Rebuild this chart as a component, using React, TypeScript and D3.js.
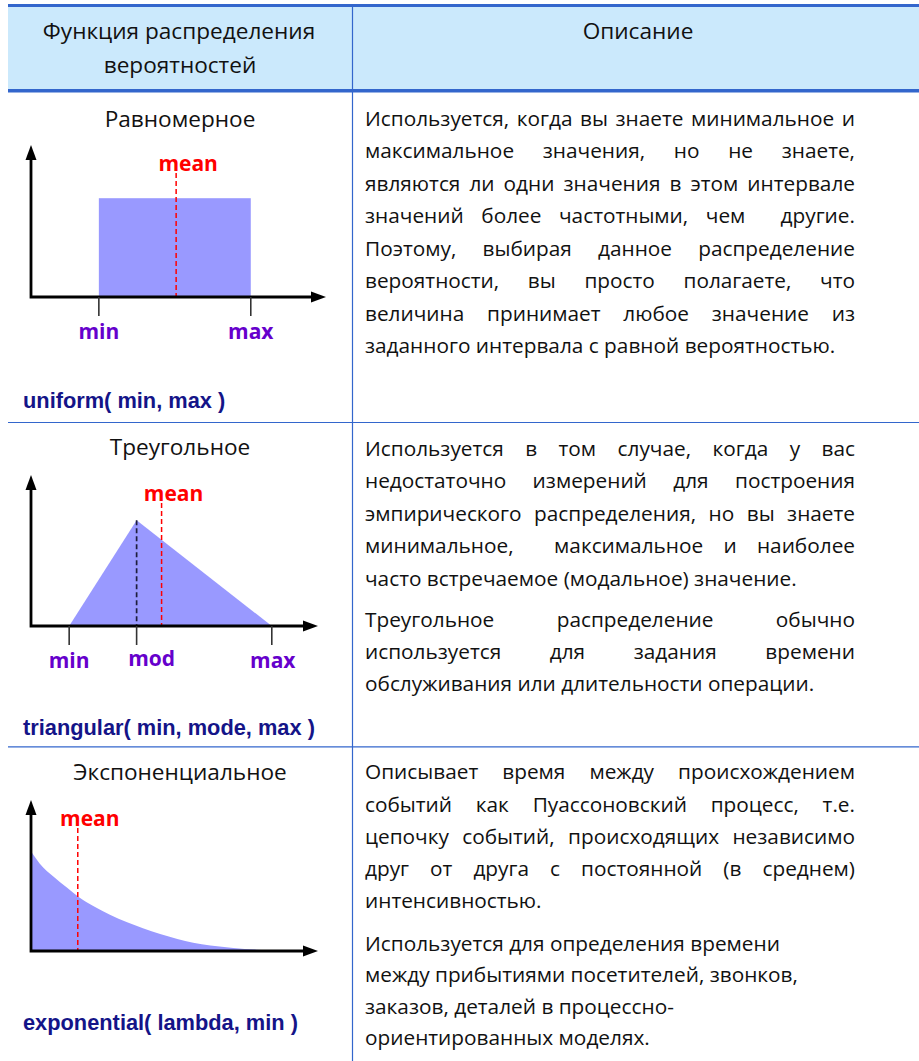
import React from "react";
import * as d3 from "d3";

// ---------- data ----------
const headerLeft = ["Функция распределения", "вероятностей"];
const headerRight = ["Описание"];
const distNames = ["Равномерное", "Треугольное", "Экспоненциальное"];
const distFormulas = ["uniform( min, max )", "triangular( min, mode, max )", "exponential( lambda, min )"];

const uniformLabels = ["min", "max"];
const uniformValues = [2.3, 7.45];
const uniformDensity = 0.65;
const uniformMean = 4.92;

const triangularLabels = ["min", "mod", "max"];
const triangularValues = [1.33, 3.68, 8.39];
const triangularPeak = 0.7;
const triangularMean = 4.55;

const expX = [0, 0.3, 0.8, 1.25, 1.65, 2.2, 2.75, 3.35, 3.9, 4.5, 5.1, 5.65, 6.25, 7.05, 7.85, 8.55];
const expY = [0.66, 0.58, 0.49, 0.42, 0.36, 0.295, 0.24, 0.19, 0.15, 0.112, 0.08, 0.055, 0.036, 0.02, 0.009, 0.002];
const expMean = 1.63;

const desc1 = [
  {
    justify: true,
    lines: [
      "Используется, когда вы знаете минимальное и",
      "максимальное значения, но не знаете,",
      "являются ли одни значения в этом интервале",
      "значений более частотными, чем  другие.",
      "Поэтому, выбирая данное распределение",
      "вероятности, вы просто полагаете, что",
      "величина принимает любое значение из",
      "заданного интервала с равной вероятностью.",
    ],
  },
];
const desc2 = [
  {
    justify: true,
    lines: [
      "Используется в том случае, когда у вас",
      "недостаточно измерений для построения",
      "эмпирического распределения, но вы знаете",
      "минимальное,  максимальное и наиболее",
      "часто встречаемое (модальное) значение.",
    ],
  },
  {
    justify: true,
    lines: [
      "Треугольное распределение обычно",
      "используется для задания времени",
      "обслуживания или длительности операции.",
    ],
  },
];
const desc3 = [
  {
    justify: true,
    lines: [
      "Описывает время между происхождением",
      "событий как Пуассоновский процесс, т.е.",
      "цепочку событий, происходящих независимо",
      "друг от друга с постоянной (в среднем)",
      "интенсивностью.",
    ],
  },
  {
    justify: false,
    lines: [
      "Используется для определения времени",
      "между прибытиями посетителей, звонков,",
      "заказов, деталей в процессно-",
      "ориентированных моделях.",
    ],
  },
];

// ---------- styles ----------
const W = 919;
const H = 1061;
const BLUE = "#3366cc";
const FILL = "#9999ff";
const PURPLE = "#6600cc";
const RED = "#ff0000";
const NAVY = "#141488";
const TXT = "#111111";
const FONT_FAMILY = "'Open Sans', sans-serif";
const FONT_SIZE = 20.8;
const TITLE_SIZE = 22.6;
const TEXT_X0 = 365;
const TEXT_X1 = 855;

let ctx: CanvasRenderingContext2D | null = null;
function measure(t: string, font: string) {
  if (!ctx) ctx = document.createElement("canvas").getContext("2d");
  ctx!.font = font;
  return ctx!.measureText(t).width;
}

function Para({ paras, starts, lh }: { paras: any[]; starts: number[]; lh: number[] }) {
  const font = `${FONT_SIZE}px "Open Sans"`;
  const out: any[] = [];
  paras.forEach((p, pi) => {
    p.lines.forEach((line: string, li: number) => {
      const y = starts[pi] + li * lh[pi];
      const isLast = li === p.lines.length - 1;
      const key = `${pi}-${li}`;
      if (!p.justify || isLast) {
        out.push(
          <text key={key} x={TEXT_X0} y={y}>
            {line}
          </text>
        );
        return;
      }
      const words = line.split(" ");
      const widths = words.map((w) => measure(w, font));
      const gap = (TEXT_X1 - TEXT_X0 - d3.sum(widths)) / (words.length - 1);
      let cx = TEXT_X0;
      out.push(
        <text key={key} y={y}>
          {words.map((w, i) => {
            const el = (
              <tspan key={i} x={cx}>
                {w}
              </tspan>
            );
            cx += widths[i] + gap;
            return el;
          })}
        </text>
      );
    });
  });
  return (
    <g fontFamily={FONT_FAMILY} fontSize={FONT_SIZE} fill={TXT}>
      {out}
    </g>
  );
}

function Axes({ x0, y0, yTop, xEnd }: { x0: number; y0: number; yTop: number; xEnd: number }) {
  const al = 15;
  const aw = 5.5;
  return (
    <g>
      <path d={`M${x0},${yTop + al - 1}L${x0},${y0}L${xEnd - al + 1},${y0}`} fill="none" stroke="#000" strokeWidth={2.8} strokeLinejoin="miter" />
      <polygon points={`${x0},${yTop} ${x0 - aw},${yTop + al} ${x0 + aw},${yTop + al}`} fill="#000" />
      <polygon points={`${xEnd},${y0} ${xEnd - al},${y0 - aw} ${xEnd - al},${y0 + aw}`} fill="#000" />
    </g>
  );
}

function MeanMark({ x, yTop, y0 }: { x: number; yTop: number; y0: number }) {
  return (
    <g>
      <line x1={x} x2={x} y1={yTop} y2={y0} stroke={RED} strokeWidth={1.5} strokeDasharray="5,3" />
      <text x={x + 12} y={yTop - 2.5} textAnchor="middle" fontFamily={FONT_FAMILY} fontWeight={700} fontSize={21} fill={RED}>
        mean
      </text>
    </g>
  );
}

function Ticks({ xs, labels, y0, dy }: { xs: number[]; labels: string[]; y0: number; dy: number[] }) {
  return (
    <g>
      {xs.map((x, i) => (
        <g key={i}>
          <line x1={x} x2={x} y1={y0} y2={y0 + 19} stroke="#333" strokeWidth={1.6} />
          <text x={x + dy[i]} y={y0 + 42 + (labels[i] === "mod" ? -2 : 0)} textAnchor="middle" fontFamily={FONT_FAMILY} fontWeight={700} fontSize={21} fill={PURPLE}>
            {labels[i]}
          </text>
        </g>
      ))}
    </g>
  );
}

function UniformChart() {
  const y0 = 297,
    yTop = 145;
  const x = d3.scaleLinear().domain([0, 10]).range([31, 326]);
  const y = d3.scaleLinear().domain([0, 1]).range([y0, yTop]);
  const [mn, mx] = uniformValues;
  return (
    <g>
      <rect x={x(mn)} y={y(uniformDensity)} width={x(mx) - x(mn)} height={y(0) - y(uniformDensity)} fill={FILL} />
      <MeanMark x={x(uniformMean)} yTop={yTop + 28} y0={y0} />
      <Axes x0={x(0)} y0={y0} yTop={yTop} xEnd={x(10)} />
      <Ticks xs={uniformValues.map((v) => x(v))} labels={uniformLabels} y0={y0} dy={[0, 0]} />
    </g>
  );
}

function TriangularChart() {
  const y0 = 626,
    yTop = 475;
  const x = d3.scaleLinear().domain([0, 10]).range([31, 318]);
  const y = d3.scaleLinear().domain([0, 1]).range([y0, yTop]);
  const [mn, md, mx] = triangularValues;
  const pts: [number, number][] = [
    [mn, 0],
    [md, triangularPeak],
    [mx, 0],
  ];
  const area = d3
    .area<[number, number]>()
    .x((d) => x(d[0]))
    .y0(y(0))
    .y1((d) => y(d[1]));
  return (
    <g>
      <path d={area(pts) || ""} fill={FILL} />
      <line x1={x(md)} x2={x(md)} y1={y(triangularPeak)} y2={y0} stroke="#1e1e3c" strokeWidth={1.7} strokeDasharray="5,3" />
      <MeanMark x={x(triangularMean)} yTop={yTop + 28} y0={y0} />
      <Axes x0={x(0)} y0={y0} yTop={yTop} xEnd={x(10)} />
      <Ticks xs={triangularValues.map((v) => x(v))} labels={triangularLabels} y0={y0} dy={[0, 15, 1]} />
    </g>
  );
}

function ExpChart() {
  const y0 = 951,
    yTop = 800;
  const x = d3.scaleLinear().domain([0, 10]).range([31, 318]);
  const y = d3.scaleLinear().domain([0, 1]).range([y0, yTop]);
  const pts = expX.map((v, i) => [v, expY[i]] as [number, number]);
  const area = d3
    .area<[number, number]>()
    .x((d) => x(d[0]))
    .y0(y(0))
    .y1((d) => y(d[1]))
    .curve(d3.curveMonotoneX);
  return (
    <g>
      <path d={area(pts) || ""} fill={FILL} />
      <MeanMark x={x(expMean)} yTop={yTop + 28} y0={y0} />
      <Axes x0={x(0)} y0={y0} yTop={yTop} xEnd={x(10)} />
    </g>
  );
}

export default function App() {
  const titleYs = [127, 455, 780];
  const formulaYs = [408, 735, 1030];
  return (
    <svg width={W} height={H} style={{ position: "absolute", left: 0, top: 0, background: "#fff" }}>
      <rect x={0} y={0} width={W} height={H} fill="#fff" />
      {/* header */}
      <rect x={8} y={5} width={W - 8} height={86} fill="#cbe9fc" />
      <line x1={8} x2={W} y1={5.5} y2={5.5} stroke={BLUE} strokeWidth={3} />
      <line x1={8} x2={W} y1={90.7} y2={90.7} stroke={BLUE} strokeWidth={3.5} />
      <line x1={352.5} x2={352.5} y1={5} y2={H} stroke={BLUE} strokeWidth={1.2} />
      <line x1={8} x2={W} y1={422.5} y2={422.5} stroke={BLUE} strokeWidth={1.2} />
      <line x1={8} x2={W} y1={746.8} y2={746.8} stroke={BLUE} strokeWidth={1.2} />
      <g fontFamily={FONT_FAMILY} fontSize={TITLE_SIZE} fill={TXT} textAnchor="middle">
        <text x={179} y={39}>
          {headerLeft[0]}
        </text>
        <text x={180} y={73}>
          {headerLeft[1]}
        </text>
        <text x={638} y={39}>
          {headerRight[0]}
        </text>
        {distNames.map((n, i) => (
          <text key={n} x={180} y={titleYs[i]}>
            {n}
          </text>
        ))}
      </g>
      <g fontFamily="'Liberation Sans', Arial, sans-serif" fontWeight={700} fontSize={21.8} fill={NAVY}>
        {distFormulas.map((f, i) => (
          <text key={f} x={23} y={formulaYs[i]}>
            {f}
          </text>
        ))}
      </g>
      <UniformChart />
      <TriangularChart />
      <ExpChart />
      <Para paras={desc1} starts={[126]} lh={[32.45]} />
      <Para paras={desc2} starts={[455.7, 626.7]} lh={[32.5, 32.2]} />
      <Para paras={desc3} starts={[779.3, 950.7]} lh={[32.25, 31.4]} />
    </svg>
  );
}
